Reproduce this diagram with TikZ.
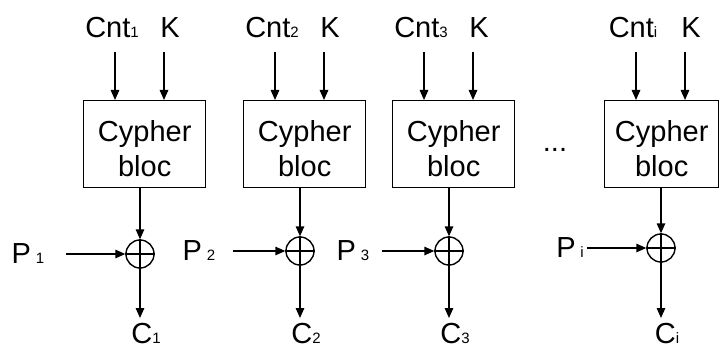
\documentclass[tikz,border=0pt]{standalone}
\usepackage{fontspec}
\setmainfont{Liberation Sans}
\usetikzlibrary{arrows.meta}
\newcommand{\lowidx}[1]{{\fontsize{15}{15}\selectfont #1}}
\begin{document}
\begin{tikzpicture}[x=1pt,y=-1pt,
  font=\fontsize{29}{35}\selectfont,
  line width=1.4pt,
  >={Triangle[length=10pt,width=8.5pt]},
  cbox/.style={draw, minimum height=87pt, anchor=north west, inner sep=0pt},
  xorc/.style={draw, circle, minimum size=28pt, inner sep=0pt},
  lbl/.style={anchor=base, inner sep=0pt}]
\useasboundingbox (0,0) rectangle (720,350);
\foreach \n/\bx/\xy/\s/\w/\pc/\ps in {1/83/254/1/122/28/66, 2/243/251/2/122/199/233, 3/392/251/3/122/353/382, 4/604/248/i/114/570/587}{
  \node[cbox, minimum width=\w pt] (box\n) at (\bx,100) {};
  \node[align=center, inner sep=0pt] (txt\n) at ([yshift=-4pt]box\n.center) {Cypher\\bloc};
  \node[xorc] (x\n) at (\bx+57,\xy) {};
  \draw (x\n.north) -- (x\n.south) (x\n.west) -- (x\n.east);
  \node[lbl] (cnt\n) at (\bx+29,38) {Cnt\lowidx{\s}};
  \node[lbl] (k\n) at (\bx+87,38) {K};
  \coordinate (cs\n) at (\bx+32,52);
  \coordinate (ks\n) at (\bx+81,52);
  \draw[->] (cs\n) -- (cs\n |- box\n.north);
  \draw[->] (ks\n) -- (ks\n |- box\n.north);
  \draw[->] (box\n.south -| x\n) -- (x\n.north);
  \node[lbl] (p\n) at (\pc,\xy+9) {P\,\lowidx{\s}};
  \coordinate (pa\n) at (\ps,\xy);
  \draw[->] (pa\n) -- (x\n.west);
  \coordinate (ce\n) at (\bx+57,318);
  \draw[->] (x\n.south) -- (ce\n);
  \node[lbl] (c\n) at (\bx+63,343) {C\lowidx{\s}};
}
\node[lbl] (dots) at (555,151) {...};
\end{tikzpicture}
\end{document}
